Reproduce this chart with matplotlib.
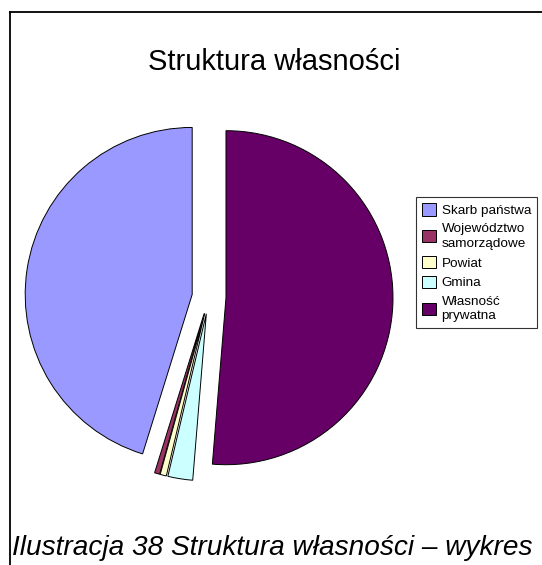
import matplotlib.pyplot as plt
from matplotlib.lines import Line2D

plt.rcParams['font.family'] = ['Liberation Sans', 'DejaVu Sans']

# ownership shares (%)
labels = ['Skarb państwa', 'Województwo\nsamorządowe', 'Powiat', 'Gmina', 'Własność\nprywatna']
shares = [45.2, 0.5, 0.6, 2.4, 51.3]
colors = ['#9999FF', '#993366', '#FFFFCC', '#CCFFFF', '#660066']

W, H = 542, 565
fig = plt.figure(figsize=(W / 100, H / 100), dpi=100)

# frame around the chart area
fig.add_artist(Line2D([10 / W, 10 / W], [0, 1 - 12 / H], color='black', lw=1.3, transform=fig.transFigure))
fig.add_artist(Line2D([10 / W, 1], [1 - 12 / H, 1 - 12 / H], color='black', lw=1.3, transform=fig.transFigure))

# pie axes, centred at pixel (209, 297)
cx, cy, half = 209, 297, 200
ax = fig.add_axes([(cx - half) / W, (H - cy - half) / H, 2 * half / W, 2 * half / H])
wedges, _ = ax.pie(shares, colors=colors, startangle=90, counterclock=True,
                   explode=[0.085] * len(shares), radius=0.835,
                   wedgeprops=dict(edgecolor='black', linewidth=0.7))
ax.set_xlim(-1, 1)
ax.set_ylim(-1, 1)
ax.set_aspect('equal')
ax.axis('off')

fig.text(274 / W, 1 - 62 / H, 'Struktura własności', ha='center', va='center', fontsize=21)

leg = fig.legend(wedges, labels, loc='upper left', bbox_to_anchor=(416 / W, 1 - 197 / H),
                 fontsize=9.7, frameon=True, fancybox=False, edgecolor='black',
                 handlelength=1.05, handleheight=1.05, handletextpad=0.4,
                 labelspacing=0.45, borderpad=0.45, borderaxespad=0)
leg.get_frame().set_linewidth(0.8)
for t in leg.get_texts():
    t.set_linespacing(1.3)

fig.text(12 / W, 1 - 548 / H, 'Ilustracja 38 Struktura własności – wykres', ha='left', va='center',
         fontsize=20.2, style='italic')

fig.savefig('out.png', dpi=100)
